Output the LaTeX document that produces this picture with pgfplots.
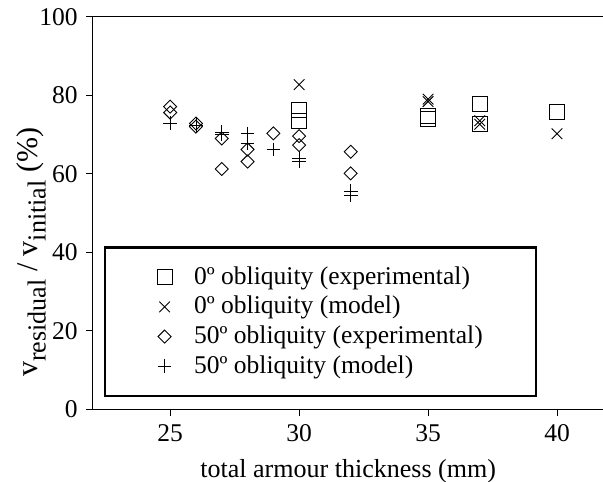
\documentclass[border=0pt]{standalone}
\usepackage{fontspec}
\setmainfont{Liberation Serif}
\usepackage{pgfplots}
\pgfplotsset{compat=1.18}
\newcommand\sub[1]{\raisebox{-0.27em}{\fontsize{26bp}{26bp}\selectfont #1}}

\begin{document}
\fontsize{25.5bp}{30bp}\selectfont
\begin{tikzpicture}
\begin{axis}[
    scale only axis,
    width=510.3bp, height=392.3bp,
    xmin=22, xmax=41.8,
    ymin=0, ymax=100,
    xtick={25,30,35,40},
    ytick={0,20,40,60,80,100},
    xtick pos=bottom, ytick pos=left,
    tick align=outside,
    major tick length=6.5bp,
    axis line style={line width=0.8bp},
    tick style={line width=0.8bp, black},
    /pgf/number format/assume math mode=true,
    ticklabel style={font=\fontsize{25.5bp}{30bp}\selectfont},
    xlabel style={font=\fontsize{26bp}{30bp}\selectfont},
    xlabel={total armour thickness (mm)},
    ylabel={v\sub{residual} / v\sub{initial} (\%)},
    ylabel style={font=\fontsize{30bp}{34bp}\selectfont, inner sep=0pt,
        at={(axis description cs:-0.0915,0.4)}, anchor=south},
    legend cell align=left,
    legend style={
        at={(axis cs:22.43,3.13)}, anchor=south west,
        draw=black, line width=2.4bp,
        font=\fontsize{25.5bp}{30bp}\selectfont,
        nodes={inner sep=1bp},
        inner xsep=52bp, inner ysep=18bp,
        row sep=6bp,
        /tikz/every odd column/.append style={column sep=21bp},
    },
]
% 0 deg obliquity, experimental
\addplot[only marks, mark=square, mark size=7.5bp, mark options={line width=0.9bp, black}] coordinates {
    (30,76.3) (30,73.5) (35,74.8) (35,74.0) (37,77.7) (37,72.7) (40,75.8)
};
\addlegendentry{0º obliquity (experimental)}
% 0 deg obliquity, model
\addplot[only marks, mark=x, mark size=7.5bp, mark options={line width=0.9bp, black}] coordinates {
    (30,82.7) (35,79.0) (35,78.4) (37,73.5) (37,72.6) (40,70.2)
};
\addlegendentry{0º obliquity (model)}
% 50 deg obliquity, experimental
\addplot[only marks, mark=square, mark size=4.6bp, mark options={line width=0.9bp, black, rotate=45}] coordinates {
    (25,77.1) (25,75.6) (26,72.8) (26,72.0) (27,69.0) (27,61.2)
    (28,66.2) (28,63.1) (29,70.3) (30,69.6) (30,67.3) (32,65.6) (32,60.1)
};
\addlegendentry{50º obliquity (experimental)}
% 50 deg obliquity, model
\addplot[only marks, mark=+, mark size=6.8bp, mark options={line width=0.9bp, black}] coordinates {
    (25,72.9) (26,72.4) (27,70.6) (27,70.1) (28,70.3) (28,67.8)
    (29,66.2) (30,63.8) (30,63.2) (32,55.6) (32,54.6)
};
\addlegendentry{50º obliquity (model)}
\end{axis}
\pgfresetboundingbox
\path[use as bounding box] (-92.7bp,-72bp) rectangle (509.8bp,409bp);
\end{tikzpicture}
\end{document}
